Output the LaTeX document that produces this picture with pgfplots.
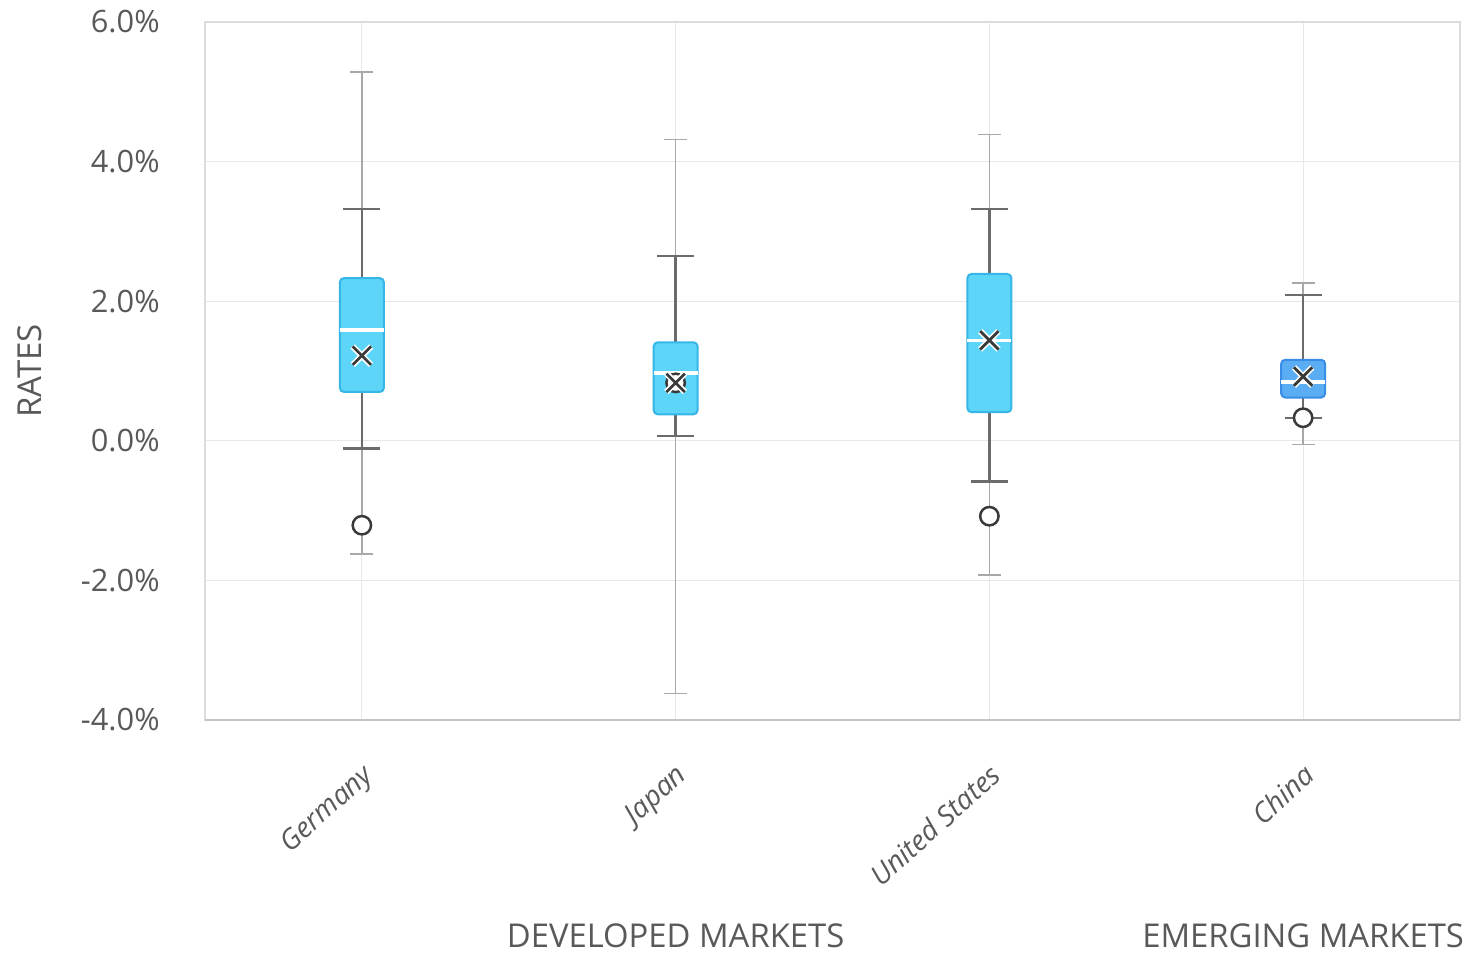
\documentclass[border=0pt]{standalone}
\usepackage{fontspec}
\setmainfont{Open Sans}
\usepackage{pgfplots}
\pgfplotsset{compat=1.18}
\usepgfplotslibrary{statistics}
\definecolor{boxfill}{HTML}{5DD5F8}
\definecolor{boxdraw}{HTML}{35B6E6}
\definecolor{chinafill}{HTML}{5AADF2}
\definecolor{chinadraw}{HTML}{3A8DE6}
\definecolor{whisk}{HTML}{6B6B6B}
\definecolor{rangec}{HTML}{A8A8A8}
\definecolor{gridc}{HTML}{E8E8E8}
\definecolor{framec}{HTML}{DCDCDC}
\definecolor{bottomc}{HTML}{C4C4C4}
\definecolor{txt}{HTML}{595959}
\definecolor{markc}{HTML}{3A3A3A}
\begin{document}
\begin{tikzpicture}
\useasboundingbox (-102.5pt,-118pt) rectangle (634pt,360pt);
\begin{axis}[
  at={(0,0)}, anchor=south west,
  scale only axis, width=627.5pt, height=349pt,
  xmin=-0.5, xmax=3.5, ymin=-4, ymax=6,
  xtick={0,1,2,3},
  xticklabels={Germany,Japan,United States,China},
  ytick={-4,-2,0,2,4,6},
  yticklabel={\pgfmathprintnumber[fixed,fixed zerofill,precision=1]{\tick}\%},
  /pgf/number format/assume math mode=true,
  major tick length=0pt,
  grid=major,
  grid style={color=gridc, line width=0.5pt},
  axis line style={color=framec, line width=0.75pt},
  yticklabel style={font=\fontsize{15.4}{18}\selectfont, text=txt, anchor=east, inner sep=0pt, xshift=-22.5pt},
  xticklabel style={font=\fontsize{14}{16}\selectfont\itshape, text=txt, xshift=-0.5pt, yshift=-21pt, rotate=42, anchor=north east, inner sep=0pt},
  boxplot/draw direction=y,
  boxplot/box extend=0.14,
  boxplot/whisker extend=0.118,
  clip=false,
]
% bottom axis line
\draw[bottomc, line width=1.1pt] (rel axis cs:0,0) -- (rel axis cs:1,0);
% full range (thin)
\addplot[rangec, solid, line width=0.75pt, mark=-, mark size=5.75pt] coordinates {(0,-1.62) (0,5.28)};
\addplot[rangec, solid, line width=0.75pt, mark=-, mark size=5.75pt] coordinates {(1,-3.62) (1,4.32)};
\addplot[rangec, solid, line width=0.75pt, mark=-, mark size=5.75pt] coordinates {(2,-1.92) (2,4.39)};
\addplot[rangec, solid, line width=0.75pt, mark=-, mark size=5.75pt] coordinates {(3,-0.05) (3,2.26)};
% boxes
\pgfplotsset{
  boxplot/every whisker/.style={draw=whisk, solid, line width=1.25pt},
  boxplot/every median/.style={draw=white, solid, line width=1.75pt},
}
\addplot[solid, boxplot prepared={draw position=0, lower whisker=-0.11, lower quartile=0.70, median=1.59, upper quartile=2.33, upper whisker=3.32},
  mark=none, boxplot/every box/.style={draw=boxdraw, fill=boxfill, solid, line width=1pt, rounded corners=2pt}] coordinates {};
\addplot[solid, boxplot prepared={draw position=1, lower whisker=0.07, lower quartile=0.38, median=0.97, upper quartile=1.41, upper whisker=2.65},
  mark=none, boxplot/every box/.style={draw=boxdraw, fill=boxfill, solid, line width=1pt, rounded corners=2pt}] coordinates {};
\addplot[solid, boxplot prepared={draw position=2, lower whisker=-0.58, lower quartile=0.41, median=1.44, upper quartile=2.39, upper whisker=3.32},
  mark=none, boxplot/every box/.style={draw=boxdraw, fill=boxfill, solid, line width=1pt, rounded corners=2pt}] coordinates {};
\addplot[solid, boxplot prepared={draw position=3, lower whisker=0.33, lower quartile=0.62, median=0.84, upper quartile=1.16, upper whisker=2.09},
  mark=none, boxplot/every box/.style={draw=chinadraw, fill=chinafill, solid, line width=1pt, rounded corners=2pt}] coordinates {};
% outliers
\addplot[only marks, mark=*, mark size=4.6pt, mark options={draw=markc, fill=white, line width=1.25pt}]
  coordinates {(0,-1.21) (1,0.83) (2,-1.08) (3,0.33)};
% means
\addplot[only marks, mark=x, mark size=6.5pt, mark options={draw=white, line width=3pt}]
  coordinates {(0,1.22) (1,0.83) (2,1.44) (3,0.92)};
\addplot[only marks, mark=x, mark size=6.5pt, mark options={draw=markc, line width=1.4pt}]
  coordinates {(0,1.22) (1,0.83) (2,1.44) (3,0.92)};
% labels
\node[xshift=-87.5pt, rotate=90, text=txt, font=\fontsize{16.5}{19}\selectfont] at (axis cs:-0.5,1) {RATES};
\node[yshift=-114pt, anchor=base, text=txt, font=\fontsize{16.4}{19}\selectfont] at (axis cs:1,-4) {DEVELOPED MARKETS};
\node[yshift=-114pt, anchor=base, text=txt, font=\fontsize{16.4}{19}\selectfont] at (axis cs:3,-4) {EMERGING MARKETS};
\end{axis}
\end{tikzpicture}
\end{document}
